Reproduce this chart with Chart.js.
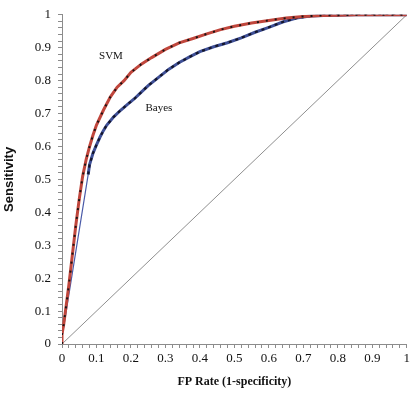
<!DOCTYPE html>
<html>
<head>
<meta charset="utf-8">
<script src="https://cdn.jsdelivr.net/npm/chart.js@4.4.1/dist/chart.umd.min.js"></script>
<style>
  html, body { margin: 0; padding: 0; background: #ffffff; }
  #wrap { width: 413px; height: 393px; }
</style>
</head>
<body>
<div id="wrap"><canvas id="c" width="413" height="393"></canvas></div>
<script>
// ---- Data ----
const tickLabels = ['0', '0.1', '0.2', '0.3', '0.4', '0.5', '0.6', '0.7', '0.8', '0.9', '1'];

const svmFpr  = [0, 0, 0.005, 0.01, 0.02, 0.03, 0.04, 0.05, 0.06, 0.07, 0.08, 0.09, 0.10, 0.12, 0.14, 0.16, 0.18, 0.20, 0.23, 0.26, 0.30, 0.34, 0.38, 0.42, 0.46, 0.50, 0.55, 0.60, 0.65, 0.70, 0.75, 0.80, 0.85, 0.90, 0.95, 1.0];
const svmSens = [0, 0.03, 0.06, 0.10, 0.18, 0.27, 0.36, 0.44, 0.51, 0.56, 0.60, 0.635, 0.665, 0.71, 0.75, 0.78, 0.80, 0.825, 0.85, 0.87, 0.895, 0.915, 0.928, 0.942, 0.955, 0.965, 0.975, 0.983, 0.99, 0.995, 0.998, 0.999, 1.0, 1.0, 1.0, 1.0];

const bayesFpr  = [0, 0, 0.076, 0.08, 0.09, 0.10, 0.11, 0.12, 0.13, 0.15, 0.17, 0.19, 0.21, 0.23, 0.25, 0.28, 0.31, 0.34, 0.37, 0.40, 0.44, 0.48, 0.52, 0.56, 0.60, 0.64, 0.68, 0.72, 0.76, 0.80, 0.85, 0.90, 0.95, 1.0];
const bayesSens = [0, 0.02, 0.515, 0.545, 0.58, 0.605, 0.628, 0.648, 0.665, 0.69, 0.71, 0.728, 0.745, 0.765, 0.785, 0.81, 0.835, 0.855, 0.872, 0.888, 0.903, 0.915, 0.93, 0.947, 0.962, 0.978, 0.99, 0.996, 0.998, 0.999, 1.0, 1.0, 1.0, 1.0];

const chanceFpr  = [0, 1];
const chanceSens = [0, 1];

const curveLabels = [
  { text: 'SVM',   x: 0.142, y: 0.875 },
  { text: 'Bayes', x: 0.281, y: 0.717 }
];

// number of leading Bayes segments drawn as a thin line
const bayesThinSegments = 2;

// ---- Helpers ----
const pts = (xs, ys) => xs.map((x, i) => ({ x: x, y: ys[i] }));

const SERIF = '"Liberation Serif", "Times New Roman", serif';
const SANS = '"Liberation Sans", Arial, sans-serif';
const AXIS_GREY = '#8c8c8c';

const labelPlugin = {
  id: 'curveLabels',
  afterDatasetsDraw(chart) {
    const { ctx, scales } = chart;
    ctx.save();
    ctx.fillStyle = '#111';
    ctx.font = '11px ' + SERIF;
    ctx.textAlign = 'center';
    ctx.textBaseline = 'middle';
    curveLabels.forEach(l => {
      ctx.fillText(l.text, scales.x.getPixelForValue(l.x), scales.y.getPixelForValue(l.y));
    });
    ctx.restore();
  }
};

const whiteBg = {
  id: 'whiteBg',
  beforeDraw(chart) {
    const { ctx, width, height } = chart;
    ctx.save();
    ctx.fillStyle = '#fff';
    ctx.fillRect(0, 0, width, height);
    ctx.restore();
  }
};

const tickCb = (value) => {
  const k = Math.round(value * 50);
  return (k % 5 === 0) ? tickLabels[k / 5] : '';
};

new Chart(document.getElementById('c'), {
  type: 'scatter',
  data: {
    datasets: [
      {
        label: 'chance',
        data: pts(chanceFpr, chanceSens),
        showLine: true, borderColor: '#8f8f8f', borderWidth: 1,
        pointRadius: 0, order: 10
      },
      {
        label: 'Bayes',
        data: pts(bayesFpr, bayesSens),
        showLine: true, borderColor: '#3e4f96', borderWidth: 3,
        pointRadius: 0, order: 6,
        segment: {
          borderWidth: ctx => ctx.p0DataIndex < bayesThinSegments ? 1.2 : 3,
          borderColor: ctx => ctx.p0DataIndex < bayesThinSegments ? '#4a5aa8' : '#3e4f96'
        }
      },
      {
        label: 'Bayes dashes',
        data: pts(bayesFpr, bayesSens),
        showLine: true, borderColor: '#15162a', borderWidth: 2.2,
        borderDash: [3, 4],
        pointRadius: 0, order: 5,
        segment: {
          borderColor: ctx => ctx.p0DataIndex < bayesThinSegments ? 'rgba(0,0,0,0)' : '#15162a'
        }
      },
      {
        label: 'SVM',
        data: pts(svmFpr, svmSens),
        showLine: true, borderColor: '#c0463c', borderWidth: 3,
        pointRadius: 0, order: 4
      },
      {
        label: 'SVM dashes',
        data: pts(svmFpr, svmSens),
        showLine: true, borderColor: '#1a1414', borderWidth: 2,
        borderDash: [2, 7],
        pointRadius: 0, order: 3
      }
    ]
  },
  options: {
    responsive: false,
    animation: false,
    devicePixelRatio: 1,
    layout: { padding: { top: 8, right: 6, left: 0, bottom: 0 } },
    plugins: { legend: { display: false }, tooltip: { enabled: false } },
    elements: { line: { tension: 0 } },
    scales: {
      x: {
        type: 'linear', min: 0, max: 1,
        afterFit: s => { s.height = 49; },
        border: { display: true, color: AXIS_GREY, width: 1 },
        grid: { drawOnChartArea: false, drawTicks: true, tickLength: 4, color: AXIS_GREY, tickColor: AXIS_GREY },
        ticks: {
          stepSize: 0.02, autoSkip: false, maxRotation: 0, padding: 3,
          color: '#111', font: { family: SERIF, size: 13 },
          callback: tickCb
        },
        title: {
          display: true, text: 'FP Rate (1-specificity)',
          color: '#111', font: { family: SERIF, size: 12, weight: 'bold' },
          padding: { top: 0, bottom: 4 }
        }
      },
      y: {
        type: 'linear', min: 0, max: 1,
        afterFit: s => { s.width = 62; },
        border: { display: true, color: AXIS_GREY, width: 1 },
        grid: { drawOnChartArea: false, drawTicks: true, tickLength: 4, color: AXIS_GREY, tickColor: AXIS_GREY },
        ticks: {
          stepSize: 0.02, autoSkip: false, padding: 7,
          color: '#111', font: { family: SERIF, size: 13 },
          callback: tickCb
        },
        title: {
          display: true, text: 'Sensitivity',
          color: '#111', font: { family: SANS, size: 13, weight: 'bold' },
          padding: { top: 2, bottom: 0 }
        }
      }
    }
  },
  plugins: [whiteBg, labelPlugin]
});
</script>
</body>
</html>
